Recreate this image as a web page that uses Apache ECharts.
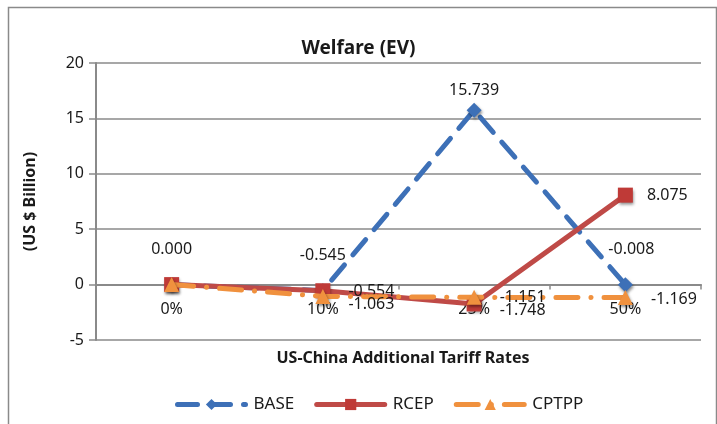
<!DOCTYPE html>
<html>
<head>
<meta charset="utf-8">
<script src="https://cdn.jsdelivr.net/npm/echarts@6/dist/echarts.min.js"></script>
<style>
  html, body { margin: 0; padding: 0; background: #fff; }
  #chart { width: 717px; height: 424px; }
</style>
</head>
<body>
<div id="chart"></div>
<script>
// Tariff scenarios on the category axis
const categories = ['0%', '10%', '25%', '50%'];

// Welfare change (EV), US $ billion
const baseValues  = [0.000, -0.545, 15.739, -0.008];
const rcepValues  = [0.000, -0.554, -1.748, 8.075];
const cptppValues = [0.000, -1.063, -1.151, -1.169];

// Y axis range and step
const yMin = -5;
const yMax = 20;
const yStep = 5;

const FONT = '"Noto Sans", "Open Sans", sans-serif';
const TXT = '#1a1a1a';

// Plot area margins
const GRID = { left: 96, right: 16, top: 63, bottom: 84 };
const CHART_H = 424;
// Lift the category axis so it crosses the value axis at zero
const plotH = CHART_H - GRID.top - GRID.bottom;
const zeroLift = (0 - yMin) / (yMax - yMin) * plotH;

// Label placement per point (index follows categories); null hides the label
const baseLabelCfg = [
  { position: 'top', distance: 20 },
  { position: 'top', distance: 20 },
  { position: 'top', distance: 4 },
  { position: 'top', distance: 20, offset: [6, 0] }
];
const rcepLabelCfg = [
  null,
  { position: 'right', distance: 18, offset: [0, 1] },
  { position: 'right', distance: 18, offset: [0, 6] },
  { position: 'right', distance: 14 }
];
const cptppLabelCfg = [
  null,
  { position: 'right', distance: 18, offset: [0, 8] },
  { position: 'right', distance: 18, offset: [0, 0] },
  { position: 'right', distance: 18, offset: [0, 2] }
];

function buildData(values, cfg) {
  return values.map((v, i) => {
    const c = cfg[i];
    if (!c) return { value: v, label: { show: false } };
    return { value: v, label: Object.assign({ show: true }, c) };
  });
}

const labelStyle = {
  show: true,
  fontFamily: FONT,
  fontSize: 16,
  color: TXT,
  formatter: p => p.value.toFixed(3)
};

const markerShadow = {
  shadowBlur: 3,
  shadowColor: 'rgba(0,0,0,0.45)',
  shadowOffsetX: 1,
  shadowOffsetY: 2
};

const chart = echarts.init(document.getElementById('chart'), null, { renderer: 'canvas' });

chart.setOption({
  backgroundColor: '#ffffff',
  animation: false,
  title: [
    {
      text: 'Welfare (EV)',
      left: 'center',
      top: 34,
      textStyle: { fontFamily: FONT, fontSize: 19, fontWeight: 'bold', color: TXT }
    },
    {
      text: 'US-China Additional Tariff Rates',
      left: 398,
      top: 345,
      textAlign: 'center',
      textStyle: { fontFamily: FONT, fontSize: 16, fontWeight: 'bold', color: TXT }
    }
  ],
  legend: {
    bottom: 6,
    left: 170,
    itemWidth: 68,
    itemHeight: 14,
    itemGap: 20,
    lineStyle: { width: 5 },
    textStyle: { fontFamily: FONT, fontSize: 17, color: TXT, padding: [0, 0, 0, 3] },
    data: ['BASE', 'RCEP', 'CPTPP']
  },
  grid: GRID,
  xAxis: {
    type: 'category',
    data: categories,
    boundaryGap: true,
    offset: -zeroLift,
    axisLine: { onZero: false, lineStyle: { color: '#8a8a8a', width: 2 } },
    axisTick: { show: true, alignWithLabel: false, length: 5, lineStyle: { color: '#8a8a8a', width: 1.5 } },
    axisLabel: { fontFamily: FONT, fontSize: 16, color: TXT, margin: 17 },
    splitLine: { show: false }
  },
  yAxis: {
    type: 'value',
    min: yMin,
    max: yMax,
    interval: yStep,
    name: '(US $ Billion)',
    nameLocation: 'middle',
    nameGap: 58,
    nameRotate: 90,
    nameTextStyle: { fontFamily: FONT, fontSize: 16, fontWeight: 'bold', color: TXT },
    axisLine: { show: true, onZero: false, lineStyle: { color: '#8a8a8a', width: 2 } },
    axisTick: { show: true, length: 7, lineStyle: { color: '#8a8a8a', width: 1.5 } },
    axisLabel: { fontFamily: FONT, fontSize: 16, color: TXT, margin: 12 },
    splitLine: { show: true, lineStyle: { color: '#8a8a8a', width: 1.5 } }
  },
  series: [
    {
      name: 'BASE',
      type: 'line',
      data: buildData(baseValues, baseLabelCfg),
      symbol: 'diamond',
      symbolSize: 15,
      color: '#3d70b7',
      lineStyle: { color: '#3d70b7', width: 5, type: [20, 13], cap: 'round' },
      itemStyle: Object.assign({ color: '#3d70b7' }, markerShadow),
      label: labelStyle,
      z: 2
    },
    {
      name: 'RCEP',
      type: 'line',
      data: buildData(rcepValues, rcepLabelCfg),
      symbol: 'rect',
      symbolSize: 15,
      color: '#bf4a47',
      lineStyle: { color: '#bf4a47', width: 5, cap: 'round' },
      itemStyle: Object.assign({ color: '#bf3a37' }, markerShadow),
      label: labelStyle,
      z: 3
    },
    {
      name: 'CPTPP',
      type: 'line',
      data: buildData(cptppValues, cptppLabelCfg),
      symbol: 'triangle',
      symbolSize: 15,
      color: '#f0913e',
      lineStyle: { color: '#f0913e', width: 5, type: [22, 13, 0.1, 13], cap: 'round' },
      itemStyle: Object.assign({ color: '#f0913e' }, markerShadow),
      label: labelStyle,
      z: 4
    }
  ],
  graphic: [
    {
      type: 'rect',
      left: 6,
      top: 5,
      shape: { width: 708, height: 430 },
      style: { fill: 'none', stroke: '#8a8a8a', lineWidth: 1.5 },
      silent: true
    }
  ]
});
</script>
</body>
</html>
